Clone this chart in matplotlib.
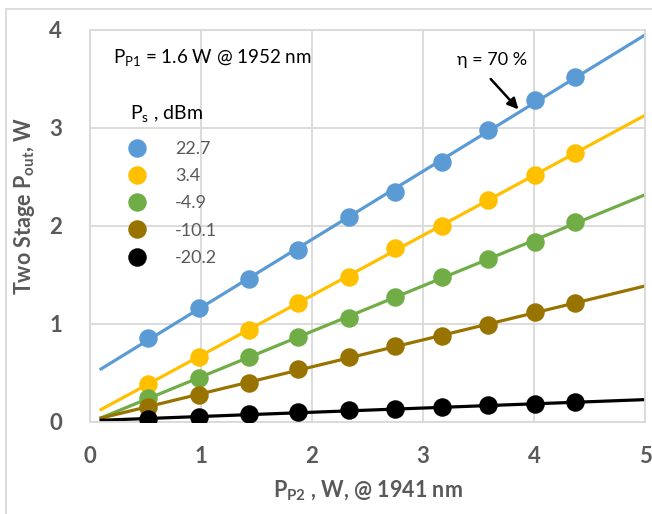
import matplotlib
matplotlib.use("Agg")
import matplotlib.pyplot as plt
import numpy as np
from matplotlib.lines import Line2D

plt.rcParams['font.family'] = ['Lato', 'DejaVu Sans']
plt.rcParams['mathtext.fontset'] = 'custom'
plt.rcParams['mathtext.rm'] = 'Lato'
plt.rcParams['mathtext.it'] = 'Lato:italic'
plt.rcParams['mathtext.bf'] = 'Lato:bold'

# pump power P_P2 (W)
pp2 = [0.52, 0.98, 1.43, 1.87, 2.33, 2.75, 3.17, 3.59, 4.01, 4.37]

# output power (W) for each seed power
ps_labels = ['22.7', '3.4', '-4.9', '-10.1', '-20.2']
pout_227 = [0.86, 1.16, 1.46, 1.76, 2.09, 2.35, 2.65, 2.98, 3.29, 3.52]
pout_34 = [0.39, 0.66, 0.94, 1.21, 1.48, 1.78, 2.00, 2.27, 2.52, 2.74]
pout_m49 = [0.24, 0.45, 0.66, 0.87, 1.06, 1.28, 1.48, 1.66, 1.84, 2.04]
pout_m101 = [0.15, 0.28, 0.40, 0.54, 0.66, 0.78, 0.88, 0.99, 1.12, 1.21]
pout_m202 = [0.03, 0.05, 0.08, 0.10, 0.12, 0.13, 0.15, 0.17, 0.18, 0.20]

series = [pout_227, pout_34, pout_m49, pout_m101, pout_m202]
colors = ['#5B9BD5', '#FFC000', '#70AD47', '#997300', '#000000']

fit_range = [0.1, 5.0]

fig = plt.figure(figsize=(6.52, 5.14), dpi=100)
ax = fig.add_axes([90/652, 1 - 422/514, 555/652, 392/514])

for ys, c, lab in zip(series, colors, ps_labels):
    k, b = np.polyfit(pp2, ys, 1)
    xf = np.array(fit_range)
    ax.plot(xf, k*xf + b, color=c, lw=2.3, zorder=2)
    ax.plot(pp2, ys, 'o', color=c, ms=12.3, label=lab, zorder=3)

ax.set_xlim(0, 5)
ax.set_ylim(0, 4)
ax.set_xticks([0, 1, 2, 3, 4, 5])
ax.set_yticks([0, 1, 2, 3, 4])
ax.grid(True, color='#D9D9D9', lw=1.3)
ax.set_axisbelow(True)
for s in ax.spines.values():
    s.set_color('#D9D9D9')
    s.set_linewidth(1.3)
ax.tick_params(axis='x', length=0, labelsize=16, labelcolor='#595959', pad=17)
ax.tick_params(axis='y', length=0, labelsize=16, labelcolor='#595959', pad=20)
for t in ax.get_xticklabels() + ax.get_yticklabels():
    t.set_fontweight('bold')

ax.set_xlabel(r'P$_{\mathbf{P2}}$ , W, @ 1941 nm', fontsize=15.5, fontweight='bold', color='#595959')
ax.set_ylabel(r'Two Stage P$_{\mathbf{out}}$, W', fontsize=15.5, fontweight='bold', color='#595959')
ax.xaxis.set_label_coords(0.5, -0.145)
ax.yaxis.set_label_coords(-0.095, 0.55)

ax.text(0.041, 0.929, r'P$_{\mathrm{P1}}$ = 1.6 W @ 1952 nm', transform=ax.transAxes,
        fontsize=13.5, va='center', ha='left')
ax.text(3.62, 3.69, r'η = 70 %', fontsize=13, ha='center', va='center')
ax.annotate('', xy=(3.86, 3.19), xytext=(3.61, 3.50),
            arrowprops=dict(arrowstyle='-|>', color='black', lw=1.8, mutation_scale=16,
                            shrinkA=0, shrinkB=0))

ax.text(0.072, 0.788, r'P$_{\mathrm{s}}$ , dBm', transform=ax.transAxes,
        fontsize=14, va='center', ha='left')
leg = ax.legend(loc='upper left', bbox_to_anchor=(0.052, 0.735), frameon=False,
                fontsize=13, labelcolor='#595959', handletextpad=1.5, labelspacing=0.62,
                handlelength=1.2, borderaxespad=0)

# chart area border
fig.add_artist(Line2D([6/652, 6/652], [0, 1 - 9/514], transform=fig.transFigure, color='#D9D9D9', lw=1.3))
fig.add_artist(Line2D([6/652, 1], [1 - 9/514, 1 - 9/514], transform=fig.transFigure, color='#D9D9D9', lw=1.3))

fig.savefig('out.png', dpi=100)
